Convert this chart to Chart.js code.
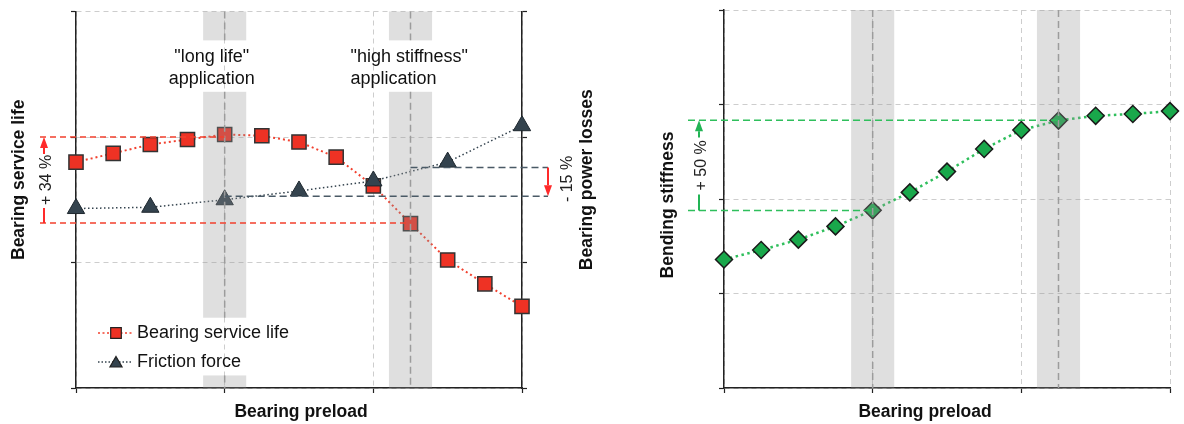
<!DOCTYPE html>
<html lang="en">
<head>
<meta charset="UTF-8">
<title>Bearing preload</title>
<script src="https://cdn.jsdelivr.net/npm/chart.js"></script>
<style>
    body { margin: 0; background: #fff; }
    .wrap { position: relative; width: 1184px; height: 424px; }
    #leftChart { position: absolute; left: 0; top: 0; }
    #rightChart { position: absolute; left: 600px; top: 0; }
</style>
</head>
<body>
<div class="wrap">
    <canvas id="leftChart" width="600" height="424"></canvas>
    <canvas id="rightChart" width="584" height="424"></canvas>
</div>
<script>
// data (arbitrary units, axes have no numbers)
const preload = [0, 0.25, 0.5, 0.75, 1, 1.25, 1.5, 1.75, 2, 2.25, 2.5, 2.75, 3];
const serviceLife = [1.80, 1.87, 1.94, 1.98, 2.02, 2.01, 1.96, 1.84, 1.61, 1.31, 1.02, 0.83, 0.65];
const frictionPreload = [0, 0.5, 1, 1.5, 2, 2.5, 3];
const frictionForce = [1.43, 1.44, 1.50, 1.57, 1.65, 1.80, 2.09];
const stiffness = [1.36, 1.46, 1.57, 1.71, 1.88, 2.07, 2.29, 2.53, 2.73, 2.83, 2.88, 2.90, 2.93];

// highlighted operating points and reference levels
const applicationPoints = [1, 2.25];
const lifeRef = [2.0, 1.315];
const frictionRef = [1.528, 1.756];
const stiffRef = [1.878, 2.833];

const applicationLabels = [['"long life"', 'application'], ['"high stiffness"', 'application']];
const legendLabels = ['Bearing service life', 'Friction force'];
const deltaLabels = ['+ 34 %', '- 15 %', '+ 50 %'];
const axisTitles = ['Bearing service life', 'Bearing power losses', 'Bearing preload', 'Bending stiffness'];

const FONT = "'Liberation Sans', Arial, sans-serif";
Chart.defaults.font.family = FONT;

const RED = '#ee3224';
const RED_LINE = '#f2402e';
const SLATE = '#34434e';
const GREEN = '#19a84b';
const GREEN_LINE = '#2fbf5c';
const GRID = '#cdcdcd';

function pts(xs, ys) {
    return xs.map((x, i) => ({ x: x, y: ys[i] }));
}

function hDash(ctx, x1, x2, y, color, dash) {
    ctx.save();
    ctx.strokeStyle = color;
    ctx.lineWidth = 1.5;
    ctx.setLineDash(dash || [7, 4]);
    ctx.beginPath();
    ctx.moveTo(x1, y);
    ctx.lineTo(x2, y);
    ctx.stroke();
    ctx.restore();
}

function drawArrow(ctx, x, yTail, yHead, color, gap) {
    const dir = yHead < yTail ? -1 : 1;
    const headLen = 11, headW = 4;
    const shaftEnd = yHead - dir * headLen;
    ctx.save();
    ctx.strokeStyle = color;
    ctx.fillStyle = color;
    ctx.lineWidth = 2;
    ctx.beginPath();
    const lo = Math.min(yTail, shaftEnd), hi = Math.max(yTail, shaftEnd);
    if (gap) {
        ctx.moveTo(x, lo); ctx.lineTo(x, gap[0]);
        ctx.moveTo(x, gap[1]); ctx.lineTo(x, hi);
    } else {
        ctx.moveTo(x, lo); ctx.lineTo(x, hi);
    }
    ctx.stroke();
    ctx.beginPath();
    ctx.moveTo(x, yHead);
    ctx.lineTo(x - headW, shaftEnd);
    ctx.lineTo(x + headW, shaftEnd);
    ctx.closePath();
    ctx.fill();
    ctx.restore();
}

function rotText(ctx, text, x, y, font, color) {
    ctx.save();
    ctx.translate(x, y);
    ctx.rotate(-Math.PI / 2);
    ctx.font = font;
    ctx.fillStyle = color;
    ctx.textAlign = 'center';
    ctx.textBaseline = 'middle';
    ctx.fillText(text, 0, 0);
    ctx.restore();
}

function drawBand(chart, xv, segments) {
    const { ctx, scales: { x, y } } = chart;
    const x1 = x.getPixelForValue(xv - 0.145), x2 = x.getPixelForValue(xv + 0.145);
    const xc = x.getPixelForValue(xv);
    segments.forEach(s => {
        const yTop = y.getPixelForValue(s[0]), yBot = y.getPixelForValue(s[1]);
        ctx.save();
        ctx.fillStyle = 'rgba(150,150,150,0.3)';
        ctx.fillRect(x1, yTop, x2 - x1, yBot - yTop);
        ctx.strokeStyle = '#9c9c9c';
        ctx.lineWidth = 1.5;
        ctx.setLineDash([7, 4]);
        ctx.beginPath();
        ctx.moveTo(xc, yTop);
        ctx.lineTo(xc, yBot);
        ctx.stroke();
        ctx.restore();
    });
}

const boldTitle = "bold 17.5px " + FONT;

const leftNotes = {
    id: 'leftNotes',
    afterDatasetsDraw(chart) {
        const { ctx, chartArea: a, scales: { x, y, y2 } } = chart;
        drawBand(chart, applicationPoints[0], [[3, 2.77], [2.36, 0.56], [0.1, 0]]);
        drawBand(chart, applicationPoints[1], [[3, 2.77], [2.36, 0]]);

        // reference levels
        const xa = x.getPixelForValue(applicationPoints[0]);
        const xb = x.getPixelForValue(applicationPoints[1]);
        const yL0 = y.getPixelForValue(lifeRef[0]), yL1 = y.getPixelForValue(lifeRef[1]);
        const yF0 = y2.getPixelForValue(frictionRef[0]), yF1 = y2.getPixelForValue(frictionRef[1]);
        hDash(ctx, a.left - 36, xa, yL0, RED_LINE, [6, 4]);
        hDash(ctx, a.left - 36, xb, yL1, RED_LINE, [6, 4]);
        hDash(ctx, xa, a.right + 26, yF0, '#4a5a66', [7, 4]);
        hDash(ctx, xb, a.right + 26, yF1, '#4a5a66', [7, 4]);

        const midL = (yL0 + yL1) / 2;
        drawArrow(ctx, a.left - 32, yL1, yL0, '#ff2a2a', [midL - 26, midL + 28]);
        rotText(ctx, deltaLabels[0], a.left - 29, midL, "16px " + FONT, '#222');
        drawArrow(ctx, a.right + 26, yF1, yF0, '#ff2a2a');
        rotText(ctx, deltaLabels[1], a.right + 46, (yF0 + yF1) / 2 - 3, "16px " + FONT, '#222');

        // application labels
        ctx.save();
        ctx.font = "18px " + FONT;
        ctx.fillStyle = '#111';
        ctx.textBaseline = 'alphabetic';
        ctx.textAlign = 'center';
        ctx.fillText(applicationLabels[0][0], xa - 13, a.top + 50);
        ctx.fillText(applicationLabels[0][1], xa - 13, a.top + 72);
        ctx.textAlign = 'left';
        ctx.fillText(applicationLabels[1][0], xb - 60, a.top + 50);
        ctx.fillText(applicationLabels[1][1], xb - 60, a.top + 72);
        ctx.restore();

        // legend
        const rows = [
            { y: a.bottom - 55, color: RED_LINE, dash: [2, 2.5], style: 'rect', r: 7.5, fill: RED, label: legendLabels[0] },
            { y: a.bottom - 26, color: SLATE, dash: [1.5, 2], style: 'triangle', r: 7, fill: SLATE, label: legendLabels[1] }
        ];
        rows.forEach(row => {
            ctx.save();
            ctx.strokeStyle = row.color;
            ctx.lineWidth = 1.5;
            ctx.setLineDash(row.dash);
            ctx.beginPath();
            ctx.moveTo(a.left + 22, row.y);
            ctx.lineTo(a.left + 57, row.y);
            ctx.stroke();
            ctx.setLineDash([]);
            ctx.fillStyle = row.fill;
            ctx.strokeStyle = '#222';
            ctx.lineWidth = 1.2;
            Chart.helpers.drawPoint(ctx, { pointStyle: row.style, radius: row.r, borderWidth: 1.2, rotation: 0 }, a.left + 40, row.y + (row.style === 'triangle' ? 1.5 : 0));
            ctx.font = "18px " + FONT;
            ctx.fillStyle = '#111';
            ctx.textAlign = 'left';
            ctx.textBaseline = 'middle';
            ctx.fillText(row.label, a.left + 61, row.y);
            ctx.restore();
        });

        // axis titles
        rotText(ctx, axisTitles[0], 19, (a.top + a.bottom) / 2 - 20, boldTitle, '#111');
        rotText(ctx, axisTitles[1], a.right + 65, (a.top + a.bottom) / 2 - 20, boldTitle, '#111');
        ctx.save();
        ctx.font = boldTitle;
        ctx.fillStyle = '#111';
        ctx.textAlign = 'center';
        ctx.textBaseline = 'middle';
        ctx.fillText(axisTitles[2], (a.left + a.right) / 2 + 2, a.bottom + 24);
        ctx.restore();
    }
};

const rightNotes = {
    id: 'rightNotes',
    afterDatasetsDraw(chart) {
        const { ctx, chartArea: a, scales: { x, y } } = chart;
        drawBand(chart, applicationPoints[0], [[4, 0]]);
        drawBand(chart, applicationPoints[1], [[4, 0]]);

        const xa = x.getPixelForValue(applicationPoints[0]);
        const xb = x.getPixelForValue(applicationPoints[1]);
        const yS0 = y.getPixelForValue(stiffRef[0]), yS1 = y.getPixelForValue(stiffRef[1]);
        hDash(ctx, a.left - 36, xa, yS0, GREEN_LINE, [7, 4]);
        hDash(ctx, a.left - 36, xb, yS1, GREEN_LINE, [7, 4]);
        const mid = (yS0 + yS1) / 2;
        drawArrow(ctx, a.left - 25, yS0, yS1, '#22b455', [mid - 28, mid + 29]);
        rotText(ctx, deltaLabels[2], a.left - 22, mid, "16px " + FONT, '#222');

        rotText(ctx, axisTitles[3], 68, (a.top + a.bottom) / 2 + 6, boldTitle, '#111');
        ctx.save();
        ctx.font = boldTitle;
        ctx.fillStyle = '#111';
        ctx.textAlign = 'center';
        ctx.textBaseline = 'middle';
        ctx.fillText(axisTitles[2], (a.left + a.right) / 2 - 22, a.bottom + 24);
        ctx.restore();
    }
};

function gridAxis(max, size, horizontal, extra) {
    const axis = {
        type: 'linear',
        min: 0,
        max: max,
        ticks: { display: false, stepSize: 1 },
        grid: {
            color: GRID,
            lineWidth: 1,
            drawTicks: true,
            tickLength: 5,
            tickColor: '#222',
            tickWidth: 1.2,
            tickBorderDash: []
        },
        border: { display: true, color: '#222', width: 1.5, dash: [5, 4] },
        afterFit: horizontal ? (s) => { s.height = size; } : (s) => { s.width = size; }
    };
    return Object.assign(axis, extra || {});
}

new Chart(document.getElementById('leftChart'), {
    type: 'line',
    data: {
        datasets: [
            {
                label: legendLabels[1],
                data: pts(frictionPreload, frictionForce),
                yAxisID: 'y2',
                borderColor: SLATE,
                borderWidth: 1.5,
                borderDash: [1.5, 2.5],
                pointStyle: 'triangle',
                pointRadius: 10,
                pointBackgroundColor: SLATE,
                pointBorderColor: '#1e272e',
                pointBorderWidth: 1,
                clip: false
            },
            {
                label: legendLabels[0],
                data: pts(preload, serviceLife),
                yAxisID: 'y',
                borderColor: RED_LINE,
                borderWidth: 2,
                borderDash: [2, 3],
                pointStyle: 'rect',
                pointRadius: 10,
                pointBackgroundColor: RED,
                pointBorderColor: '#333',
                pointBorderWidth: 1.5,
                clip: false
            }
        ]
    },
    options: {
        responsive: false,
        animation: false,
        layout: { padding: { top: 7, left: 0, right: 0, bottom: 0 } },
        plugins: { legend: { display: false }, tooltip: { enabled: false } },
        scales: {
            x: gridAxis(3, 36, true, { position: 'bottom' }),
            y: gridAxis(3, 76, false, { position: 'left' }),
            y2: gridAxis(3, 78, false, {
                position: 'right',
                grid: { drawOnChartArea: false, drawTicks: true, tickLength: 5, tickColor: '#222', tickWidth: 1.2, tickBorderDash: [] }
            })
        }
    },
    plugins: [leftNotes]
});

new Chart(document.getElementById('rightChart'), {
    type: 'line',
    data: {
        datasets: [{
            label: axisTitles[3],
            data: pts(preload, stiffness),
            borderColor: GREEN_LINE,
            borderWidth: 2.5,
            borderDash: [2.5, 3.5],
            pointStyle: 'rectRot',
            pointRadius: 8.5,
            pointBackgroundColor: GREEN,
            pointBorderColor: '#1a1a1a',
            pointBorderWidth: 1.5,
            clip: false
        }]
    },
    options: {
        responsive: false,
        animation: false,
        layout: { padding: { top: 7, left: 0, right: 14, bottom: 0 } },
        plugins: { legend: { display: false }, tooltip: { enabled: false } },
        scales: {
            x: gridAxis(3, 36, true, { position: 'bottom' }),
            y: gridAxis(4, 124, false, { position: 'left' })
        }
    },
    plugins: [rightNotes]
});
</script>
</body>
</html>
